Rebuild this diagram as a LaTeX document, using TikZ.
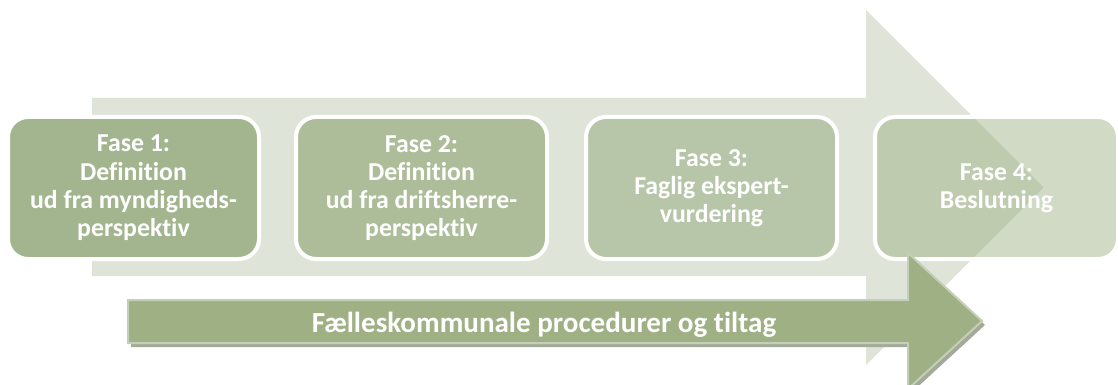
\documentclass[tikz,border=0pt]{standalone}
\usepackage{fontspec}
\setmainfont[Ligatures={NoCommon}]{Carlito}
\definecolor{bigarrow}{HTML}{DEE4D8}
\definecolor{boxa}{HTML}{A3B58E}
\definecolor{boxb}{HTML}{ADBD99}
\definecolor{boxc}{HTML}{B7C5A8}
\definecolor{boxd}{HTML}{9EB184}
\definecolor{smallarrow}{HTML}{9EB084}
\definecolor{smallborder}{HTML}{C3CFB7}
\definecolor{smallshadow}{HTML}{A3AA99}
\tikzset{
  phasebox/.style={draw=white, line width=3pt, rounded corners=15pt,
    text=white, align=center, inner sep=0pt,
    font=\bfseries\fontsize{19.35}{21.2}\selectfont},
  bandtext/.style={text=white, inner sep=0pt,
    font=\bfseries\fontsize{21.8}{24}\selectfont}
}
\begin{document}
\begin{tikzpicture}[x=0.75pt,y=-0.75pt]
\useasboundingbox (0,0) rectangle (1118,385);
\clip (0,0) rectangle (1118,385);
% big background arrow
\fill[bigarrow] (92,98) -- (866,98) -- (866,10) -- (1043.5,187.5) -- (866,365) -- (866,276) -- (92,276) -- cycle;
% phase boxes
\node[phasebox, fill=boxa, minimum width=251*0.75pt, minimum height=142*0.75pt] (f1) at (133.5,188)
  {Fase 1:\\Definition\\ud fra myndigheds-\\perspektiv};
\node[phasebox, fill=boxb, minimum width=251*0.75pt, minimum height=142*0.75pt] (f2) at (421.5,188)
  {Fase 2:\\Definition\\ud fra driftsherre-\\perspektiv};
\node[phasebox, fill=boxc, minimum width=251*0.75pt, minimum height=142*0.75pt] (f3) at (711.5,188)
  {Fase 3:\\Faglig ekspert-\\vurdering};
\node[phasebox, fill=boxd, fill opacity=0.48, text opacity=1, draw opacity=1, minimum width=243*0.75pt, minimum height=142*0.75pt] (f4) at (996.5,188)
  {Fase 4:\\Beslutning};
% small arrow: shadow, body
\fill[smallshadow] ([shift={(3,4)}]128,300) -- ++(780,0) -- ++(0,-47) -- ++(74,68) -- ++(-74,68) -- ++(0,-46) -- ++(-780,0) -- cycle;
\filldraw[fill=smallarrow, draw=smallborder, line width=1.5pt]
  (128,300) -- (908,300) -- (908,253) -- (982,321) -- (908,389) -- (908,343) -- (128,343) -- cycle;
\node[bandtext, anchor=base] (band) at (544,332.5) {Fælleskommunale procedurer og tiltag};
\end{tikzpicture}
\end{document}
